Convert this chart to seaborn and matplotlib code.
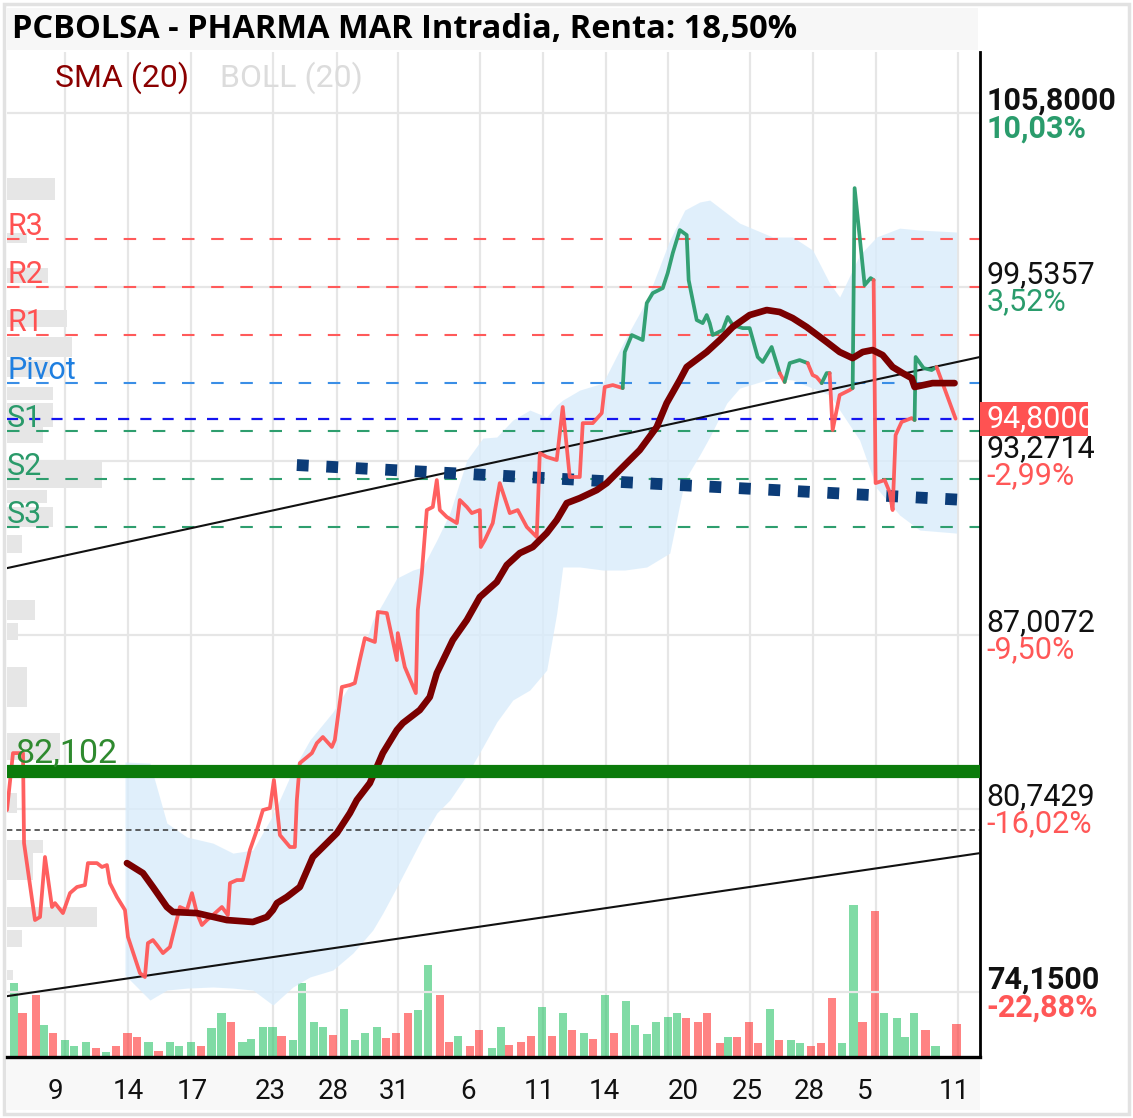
import numpy as np
import pandas as pd
import matplotlib.pyplot as plt
from matplotlib.patches import Rectangle
import seaborn as sns

# ---------------- datos ----------------
t_precio = [0.0, 0.64, 1.71, 1.82, 2.99, 3.53, 4.06, 4.81, 5.13, 5.98, 6.73, 7.48, 8.33, 8.65, 9.62,
            10.15, 10.68, 11.00, 11.75, 12.61, 12.93, 14.21, 14.74, 15.06, 15.60, 16.03, 16.67, 17.42,
            18.48, 19.23, 19.77, 20.30, 20.83, 21.37, 22.01, 22.97, 23.61, 23.83, 24.57, 25.21, 25.96,
            26.71, 27.35, 28.10, 28.53, 29.17, 30.24, 30.77, 30.98, 31.30, 32.59, 33.12, 33.76, 34.72,
            35.04, 35.79, 36.65, 37.18, 37.71, 38.25, 39.32, 39.64, 40.60, 41.67, 41.77, 42.52, 43.70,
            43.91, 44.34, 44.87, 45.51, 45.94, 46.26, 47.01, 48.08, 48.40, 49.15, 49.68, 50.54, 50.64,
            51.07, 51.92, 52.67, 53.74, 54.59, 55.56, 56.62, 56.95, 57.69, 58.76, 59.40, 60.15, 61.22,
            61.54, 62.61, 63.57, 63.89, 64.75, 65.81, 66.03, 66.78, 67.95, 68.38, 69.02, 70.09, 70.62,
            71.16, 71.91, 72.65, 72.86, 73.72, 74.36, 74.79, 75.11, 75.43, 76.50, 77.03, 77.57, 78.63,
            79.38, 80.24, 80.77, 81.73, 82.59, 83.12, 83.66, 84.72, 85.58, 86.11, 86.54, 87.08, 87.61,
            87.93, 88.25, 89.00, 90.07, 90.39, 90.60, 91.67, 92.31, 92.63, 92.84, 93.81, 94.34, 94.66,
            94.98, 95.62, 96.69, 97.01, 97.12, 97.97, 98.83, 99.36, 101.39]
precio = [80.71, 82.76, 82.76, 79.52, 76.75, 76.86, 79.02, 77.22, 77.36, 77.00, 77.72, 77.94, 78.01, 78.80, 78.80,
          78.66, 78.73, 78.08, 77.58, 77.11, 76.14, 74.84, 74.70, 75.92, 76.03, 75.85, 75.56, 75.78,
          77.22, 77.11, 77.72, 77.00, 76.57, 76.75, 76.93, 77.22, 76.93, 78.08, 78.19, 78.19, 79.27,
          79.99, 80.71, 80.78, 81.79, 79.81, 79.38, 79.38, 81.07, 82.40, 82.76, 83.12, 83.34, 82.98,
          83.23, 85.14, 85.21, 85.28, 86.11, 86.90, 86.76, 87.84, 87.80, 86.11, 87.08, 85.86, 84.92,
          87.91, 89.24, 91.51, 91.62, 92.59, 91.51, 91.26, 91.04, 91.87, 91.62, 91.40, 91.51, 90.18,
          90.43, 91.04, 92.48, 91.40, 91.51, 90.90, 90.54, 93.56, 93.42, 93.31, 95.22, 92.70, 92.70,
          94.64, 94.64, 95.00, 95.94, 96.01, 95.90, 97.20, 97.81, 97.63, 98.96, 99.32, 99.50, 100.04,
          100.76, 101.59, 101.41, 99.79, 98.35, 98.24, 98.53, 98.24, 97.81, 97.99, 98.46, 98.17, 98.06,
          98.06, 97.02, 96.84, 97.38, 96.44, 96.12, 96.80, 96.91, 96.80, 96.37, 96.30, 96.08, 96.44,
          96.44, 94.39, 95.65, 95.83, 95.90, 103.10, 99.61, 99.86, 99.79, 92.48, 92.59, 92.16, 91.51,
          94.21, 94.68, 94.82, 94.75, 97.02, 96.62, 96.55, 96.66, 94.80]

t_sma = [12.82, 14.53, 15.60, 17.09, 17.74, 20.30, 23.50, 26.28, 27.78, 28.42, 28.85, 29.91, 31.30,
         32.69, 34.19, 35.26, 36.65, 37.39, 38.78, 39.53, 40.17, 41.67, 42.31, 44.12, 45.19, 45.94,
         47.65, 49.15, 50.54, 52.35, 53.42, 54.81, 56.20, 57.69, 58.76, 59.83, 61.22, 63.04, 64.10,
         65.49, 67.63, 69.45, 70.51, 71.91, 72.65, 74.79, 76.18, 77.57, 79.38, 81.20, 82.59, 83.98,
         85.47, 87.61, 89.00, 90.39, 91.46, 92.52, 93.59, 94.66, 95.73, 96.69, 97.01, 98.93, 101.28]
sma = [78.80, 78.44, 77.94, 77.22, 77.04, 77.00, 76.75, 76.68, 76.86, 77.11, 77.36, 77.58, 77.94,
       79.02, 79.52, 79.88, 80.60, 81.07, 81.68, 82.26, 82.76, 83.59, 83.84, 84.31, 84.78, 85.64,
       86.83, 87.55, 88.38, 88.92, 89.53, 89.96, 90.18, 90.68, 91.15, 91.76, 91.94, 92.23, 92.48,
       92.95, 93.67, 94.50, 95.36, 96.19, 96.66, 97.20, 97.63, 98.10, 98.53, 98.71, 98.64, 98.42,
       98.10, 97.56, 97.20, 96.98, 97.20, 97.27, 97.09, 96.66, 96.44, 96.26, 95.94, 96.08, 96.08]

t_boll = [12.61, 15.28, 17.09, 19.23, 22.01, 24.15, 26.28, 28.42, 30.56, 32.37, 34.83, 36.97, 39.10,
          40.17, 41.67, 43.38, 44.44, 45.94, 47.33, 49.15, 50.86, 52.35, 54.06, 55.88, 57.69, 58.76,
          59.40, 61.22, 63.68, 66.03, 68.38, 70.84, 72.44, 74.04, 75.11, 76.93, 78.31, 81.84, 83.98,
          86.11, 87.93, 89.00, 91.13, 92.95, 95.41, 97.55, 101.50]
boll_sup = [82.44, 82.40, 80.24, 79.74, 79.52, 79.16, 79.27, 80.53, 82.15, 83.23, 84.24, 85.39, 87.55,
            88.16, 89.06, 89.35, 89.46, 90.43, 91.40, 93.31, 94.10, 94.14, 94.75, 95.11, 94.86, 95.29,
            95.47, 95.83, 96.08, 97.63, 99.07, 101.23, 102.31, 102.60, 102.67, 102.20, 101.84, 101.34,
            101.34, 100.87, 99.68, 99.18, 100.69, 101.34, 101.66, 101.59, 101.52]
boll_inf = [74.77, 73.87, 74.23, 74.30, 74.34, 74.30, 74.23, 73.69, 74.34, 74.70, 74.95, 75.56, 76.39,
            77.00, 77.94, 79.05, 79.74, 80.60, 81.07, 81.97, 82.98, 83.88, 84.67, 85.03, 85.75, 87.80,
            89.46, 89.46, 89.35, 89.35, 89.46, 89.96, 92.59, 93.49, 94.14, 95.36, 95.90, 96.26, 96.19,
            95.90, 95.65, 95.11, 94.03, 92.30, 91.33, 90.79, 90.68]

t_vol = [0.75, 1.66, 3.10, 3.95, 4.91, 6.20, 7.16, 8.44, 9.51, 10.58, 11.65, 12.87, 13.89, 15.12, 16.19,
         17.41, 18.38, 19.66, 20.73, 21.85, 22.92, 23.93, 25.16, 26.12, 27.40, 28.37, 29.33, 30.61,
         31.57, 32.80, 33.81, 34.88, 36.00, 37.18, 38.25, 39.53, 40.54, 41.56, 42.84, 43.96, 44.98,
         46.26, 47.22, 48.24, 49.47, 50.48, 51.82, 52.78, 53.69, 54.91, 55.98, 57.21, 58.23, 59.40,
         60.42, 61.65, 62.66, 63.89, 64.85, 66.19, 67.09, 68.38, 69.39, 70.67, 71.63, 72.60, 73.88,
         74.84, 76.18, 77.08, 78.05, 79.27, 80.29, 81.57, 82.48, 83.76, 84.72, 85.90, 86.97, 88.19,
         89.26, 90.49, 91.45, 92.74, 93.70, 95.09, 96.00, 96.96, 98.18, 99.25, 101.50]
volumen = [74, 44, 62, 32, 24, 17, 11, 15, 9, 5, 11, 24, 20, 15, 6,
           15, 11, 15, 11, 29, 44, 35, 15, 18, 30, 30, 21, 17,
           74, 35, 30, 22, 48, 17, 24, 30, 19, 24, 44, 47, 92,
           62, 15, 21, 11, 27, 9, 30, 12, 15, 21, 50, 21, 44,
           27, 24, 18, 62, 24, 56, 32, 23, 35, 40, 44, 39, 35,
           44, 14, 20, 20, 35, 14, 48, 17, 17, 14, 11, 14, 59,
           14, 152, 35, 146, 44, 39, 20, 44, 27, 11, 33]
vol_sube = ("grrgrgggrg" "rrrgrgggrg" "grggggrggg" "grggggrrrg" "grrgrr"
            "ggrrrgrgrg" "rgrggggggr" "rrrgrrrgrg" "grrrggrrgg" "ggrgr")

perfil_precio = [103.06, 101.30, 99.95, 98.40, 97.38, 96.60, 95.70, 94.93, 94.21, 92.80, 92.00, 91.26,
                 90.29, 87.91, 87.14, 85.14, 82.99, 80.96, 79.40, 78.68, 76.86, 76.08, 74.77]
perfil_alto = [0.79, 0.36, 0.54, 0.61, 0.72, 0.61, 0.47, 0.86, 0.58, 1.00, 0.47, 0.72,
               0.65, 0.72, 0.61, 1.44, 0.97, 0.72, 0.47, 0.97, 0.72, 0.61, 0.36]
perfil_vol = [48, 20, 41, 60, 65, 43, 46, 46, 36, 95, 40, 46, 15, 28, 11, 20, 53, 10, 36, 26, 90, 15, 6]

niveles_nombre = ['R3', 'R2', 'R1', 'Pivot', 'S1', 'S2', 'S3']
niveles = [101.26, 99.54, 97.81, 96.08, 94.35, 92.62, 90.90]
precio_actual = 94.80
soporte = 82.102
precio_inicio = 80.0
umbral_color = 96.4

tend_sup_t, tend_sup_p = [0, 104], [89.42, 97.02]
tend_inf_t, tend_inf_p = [0, 104], [74.01, 79.16]
tend_med_t, tend_med_p = [30.98, 102.56], [93.13, 91.87]

eje_precios = [105.8, 99.5357, 93.2714, 87.0072, 80.7429, 74.15]
eje_texto = ['105,8000', '99,5357', '93,2714', '87,0072', '80,7429', '74,1500']
eje_pct = ['10,03%', '3,52%', '-2,99%', '-9,50%', '-16,02%', '-22,88%']

rejilla_t = [6.20, 12.93, 19.66, 28.42, 35.26, 41.77, 50.54, 57.27, 63.99, 70.62, 79.38, 86.11, 92.84, 101.60]
etiq_t = [5.13, 12.93, 19.77, 28.10, 34.83, 41.45, 49.26, 56.95, 63.89, 72.33, 79.17, 85.79, 91.67, 101.28]
etiq_dias = ['9', '14', '17', '23', '28', '31', '6', '11', '14', '20', '25', '28', '5', '11']

# ---------------- estilo ----------------
sns.set_style('white')
plt.rcParams['font.family'] = ['Roboto', 'DejaVu Sans']

ROJO = '#ff5757'
VERDE = '#2a9c6c'

W, H = 1133, 1118
fig = plt.figure(figsize=(W / 100, H / 100), dpi=100)

# marcos de fondo (detras de los ejes)
fig.patches.append(Rectangle((4 / W, 4 / H), 1125 / W, 1110 / H, transform=fig.transFigure,
                             fill=False, edgecolor='#e2e2e2', lw=2.5, zorder=-2))
fig.patches.append(Rectangle((7 / W, 1 - 50 / H), 971 / W, 42 / H, transform=fig.transFigure,
                             facecolor='#f7f7f7', edgecolor='none', zorder=-2))
fig.patches.append(Rectangle((7 / W, 1 - 1110 / H), 973 / W, 51 / H, transform=fig.transFigure,
                             facecolor='#f8f8f8', edgecolor='none', zorder=-2))

ax2 = fig.add_axes([7 / W, 1 - 1057 / H, 973 / W, 1005 / H])
ax = ax2.twinx()
ax2.set_zorder(0)
ax.set_zorder(1)
ax.patch.set_visible(False)
ax2.patch.set_visible(False)

# volumen
colores_vol = ['#2bc46a' if c == 'g' else '#ff3030' for c in vol_sube]
ax2.bar(t_vol, volumen, width=0.88, color=colores_vol, alpha=0.6, linewidth=0)
ax2.set_ylim(0, 1005)
ax2.set_xlim(0, 104)
ax2.set_yticks([])
for s in ax2.spines.values():
    s.set_visible(False)
ax2.xaxis.remove_overlapping_locs = False
ax2.set_xticks(rejilla_t)
ax2.set_xticklabels([])
ax2.set_xticks(etiq_t, minor=True)
ax2.set_xticklabels(etiq_dias, minor=True, fontsize=20, color='#111111')
ax2.tick_params(axis='x', which='both', length=0, pad=15)
ax2.grid(axis='x', which='major', color='#e6e6e6', lw=1.6)

ax.set_ylim(71.82, 108.0)

# perfil de volumen por precio
escala_perfil = 104 / 973
ax.barh(perfil_precio, np.array(perfil_vol) * escala_perfil, height=perfil_alto, left=0,
        color='#e6e6e6', linewidth=0, zorder=0.5)

# bandas de Bollinger
ax.fill_between(t_boll, boll_inf, boll_sup, color='#d9ecfb', alpha=0.8, linewidth=0, zorder=1)

# rejilla horizontal
for p in eje_precios:
    ax.axhline(p, color='#e6e6e6', lw=1.6, zorder=0.4)

# niveles pivote
col_niveles = ['#ff5a5a'] * 3 + ['#3a8ee6'] + ['#2e9e6e'] * 3
col_texto = ['#ff5252'] * 3 + ['#1f7fe0'] + ['#2a9a6a'] * 3
for nombre, nivel, c, ct in zip(niveles_nombre, niveles, col_niveles, col_texto):
    ax.axhline(nivel, color=c, lw=1.5, dashes=(6, 8), zorder=2)
    ax.text(0.0, nivel + 0.15, nombre, transform=ax.get_yaxis_transform(), color=ct,
            fontsize=22, va='baseline', ha='left', zorder=7)

ax.axhline(precio_actual, color='#1414f0', lw=1.6, dashes=(5, 5), zorder=2)
ax.axhline(precio_inicio, color='#333333', lw=1.1, dashes=(3.5, 2.5), zorder=2)

# lineas de tendencia
ax.plot(tend_sup_t, tend_sup_p, color='#111111', lw=1.5, zorder=3)
ax.plot(tend_inf_t, tend_inf_p, color='#111111', lw=1.5, zorder=3)
ax.plot(tend_med_t, tend_med_p, color='#0b3c78', lw=8.5, linestyle=(0, (1, 1.5)),
        dash_capstyle='butt', zorder=3)

# precio coloreado por tramos
sube = [precio[i + 1] > umbral_color for i in range(len(precio) - 1)]
ini = 0
for i in range(1, len(sube) + 1):
    if i == len(sube) or sube[i] != sube[ini]:
        sns.lineplot(x=t_precio[ini:i + 1], y=precio[ini:i + 1], color=VERDE if sube[ini] else ROJO,
                     lw=2.7, sort=False, estimator=None, ax=ax, zorder=4, alpha=0.95)
        ini = i

# media movil
sns.lineplot(x=t_sma, y=sma, color='#7a0000', lw=4.8, sort=False, estimator=None, ax=ax, zorder=5)

# soporte clave
ax.axhline(soporte, color='#0b7b0b', lw=9.5, zorder=6)
ax.text(0.008, soporte + 0.3, '82,102', transform=ax.get_yaxis_transform(), color='#2f8a2f',
        fontsize=24.5, va='baseline', ha='left', zorder=7)

# leyenda
ax.text(0.049, 0.974, 'SMA (20)', transform=ax.transAxes, color='#8b0000', fontsize=23, va='center')
ax.text(0.219, 0.974, 'BOLL (20)', transform=ax.transAxes, color='#dcdcdc', fontsize=23, va='center')

# eje de precios a la derecha
ax.set_yticks([])
for i, (p, txt, pct) in enumerate(zip(eje_precios, eje_texto, eje_pct)):
    peso = 'bold' if i in (0, len(eje_precios) - 1) else 'normal'
    cpct = VERDE if i < 2 else ROJO
    ax.text(1.007, p + 0.14, txt, transform=ax.get_yaxis_transform(), fontsize=22, fontweight=peso,
            color='#111111', va='baseline', ha='left', clip_on=False, zorder=3)
    ax.text(1.007, p, pct, transform=ax.get_yaxis_transform(), fontsize=22, fontweight=peso,
            color=cpct, va='top', ha='left', clip_on=False, zorder=3)

ax.add_patch(Rectangle((1.0, 94.17), 0.111, 1.23, transform=ax.get_yaxis_transform(), clip_on=False,
                       facecolor='#ff5252', edgecolor='none', zorder=10))
ax.text(1.007, precio_actual, '94,8000', transform=ax.get_yaxis_transform(), fontsize=22,
        color='white', va='center', ha='left', clip_on=False, zorder=11)

for s in ['left', 'top']:
    ax.spines[s].set_visible(False)
ax.spines['right'].set_color('black')
ax.spines['right'].set_linewidth(2.0)
ax.spines['bottom'].set_color('black')
ax.spines['bottom'].set_linewidth(2.4)

fig.text(12 / W, 1 - 29 / H, 'PCBOLSA - PHARMA MAR Intradia, Renta: 18,50%', fontsize=23.5,
         fontweight='bold', family=['Open Sans', 'DejaVu Sans'], va='center', ha='left', color='black')

fig.savefig('out.png', dpi=100)
